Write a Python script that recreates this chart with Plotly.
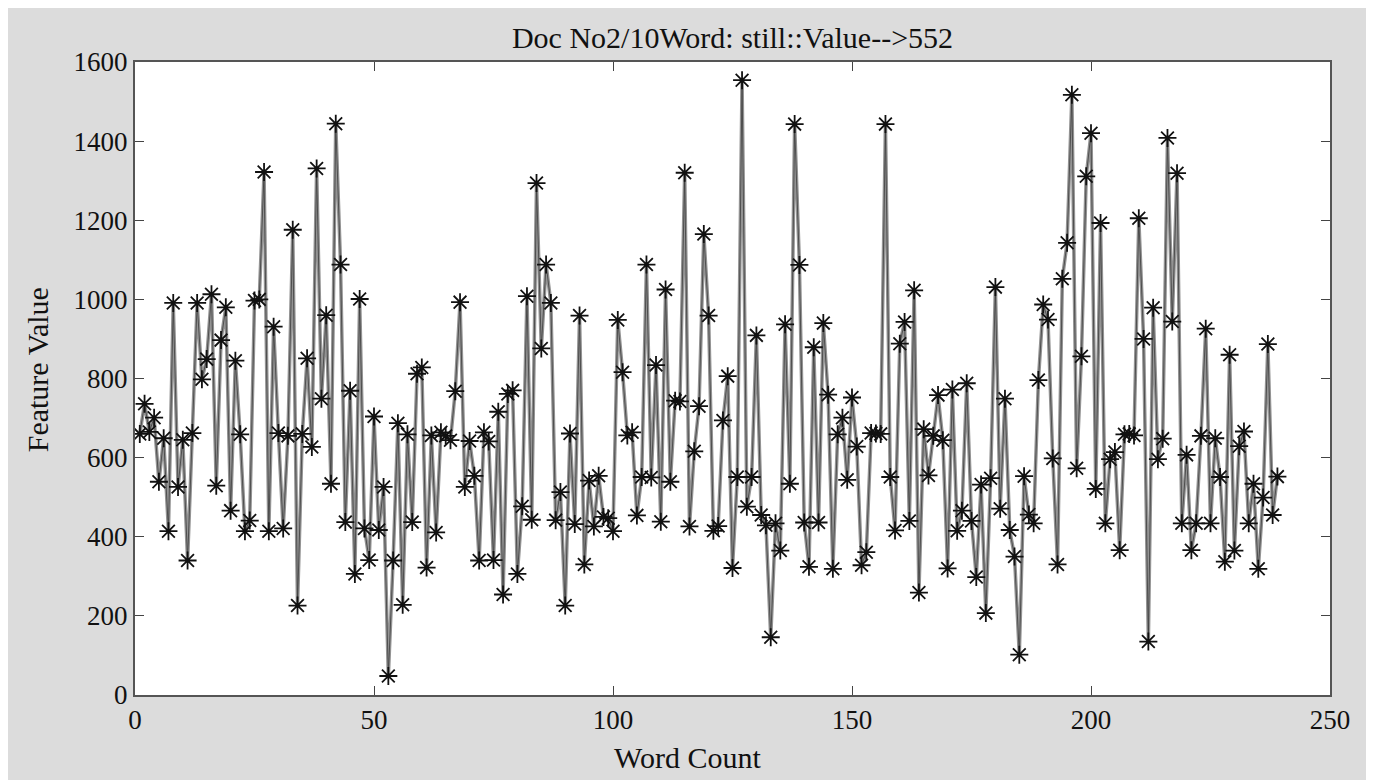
import plotly.graph_objects as go

title_text = "Doc No2/10Word: still::Value-->552"
x_label = "Word Count"
y_label = "Feature Value"

feature_values = [
    660, 736, 665, 701, 539, 649, 414, 991, 526, 645,
    340, 662, 991, 798, 849, 1013, 529, 897, 980, 466,
    845, 659, 414, 441, 997, 1000, 1322, 414, 931, 662,
    421, 655, 1176, 226, 660, 851, 627, 1331, 749, 960,
    534, 1444, 1088, 437, 769, 306, 1001, 421, 341, 704,
    417, 526, 48, 340, 687, 228, 659, 437, 812, 828,
    322, 656, 411, 664, 655, 644, 768, 993, 526, 642,
    554, 340, 664, 641, 341, 716, 254, 761, 770, 306,
    477, 1008, 443, 1294, 876, 1088, 991, 442, 513, 226,
    661, 432, 959, 330, 542, 426, 554, 450, 447, 414,
    948, 816, 656, 664, 454, 551, 1088, 550, 834, 438,
    1025, 539, 744, 742, 1320, 426, 616, 730, 1165, 959,
    415, 427, 694, 806, 321, 551, 1554, 476, 551, 909,
    455, 429, 146, 434, 365, 937, 534, 1443, 1087, 436,
    324, 879, 436, 940, 759, 319, 659, 701, 544, 752,
    628, 328, 361, 662, 661, 660, 1443, 551, 416, 888,
    943, 440, 1023, 259, 672, 555, 655, 758, 644, 320,
    772, 415, 466, 788, 440, 298, 532, 207, 548, 1031,
    471, 749, 417, 350, 102, 553, 456, 434, 796, 987,
    949, 598, 330, 1052, 1143, 1517, 573, 856, 1311, 1420,
    521, 1193, 434, 596, 614, 366, 659, 660, 656, 1205,
    900, 135, 979, 596, 648, 1408, 944, 1319, 434, 607,
    366, 434, 655, 926, 434, 649, 551, 337, 860, 365,
    629, 666, 434, 534, 319, 499, 887, 455, 552,
]
word_count = list(range(1, len(feature_values) + 1))

x_ticks = [0, 50, 100, 150, 200, 250]
y_ticks = [0, 200, 400, 600, 800, 1000, 1200, 1400, 1600]

FONT = "Liberation Serif, Times New Roman, serif"
W, H = 1360, 772

fig = go.Figure()
fig.add_trace(go.Scatter(
    x=word_count, y=feature_values, mode="lines",
    line=dict(color="#939393", width=3.5), hoverinfo="skip", showlegend=False,
))
fig.add_trace(go.Scatter(
    x=word_count, y=feature_values, mode="lines+markers",
    line=dict(color="#303030", width=0.7),
    marker=dict(symbol="asterisk-open", size=15, color="#111111",
                line=dict(color="#111111", width=1.8)),
    showlegend=False,
))

axis_common = dict(
    showgrid=False, zeroline=False, ticks="inside", ticklen=9, tickwidth=1,
    tickcolor="#444444", mirror="ticks", showline=True, linecolor="#555555",
    linewidth=2, tickfont=dict(family=FONT, size=27, color="#111111"),
)

fig.update_layout(
    width=W, height=H,
    paper_bgcolor="#dcdcdc", plot_bgcolor="#ffffff",
    margin=dict(l=127, r=38, t=54, b=85),
    font=dict(family=FONT, color="#111111"),
    title=dict(text=title_text, x=0.5, xref="paper", xanchor="center",
               y=1 - 29 / H, yref="container", yanchor="middle",
               font=dict(family=FONT, size=30, color="#111111")),
    xaxis=dict(range=[0, 250], tickvals=x_ticks, ticktext=[str(v) for v in x_ticks],
               **axis_common),
    yaxis=dict(range=[0, 1600], tickvals=y_ticks, ticktext=[str(v) for v in y_ticks],
               **axis_common),
    annotations=[
        dict(text=x_label, xref="paper", yref="paper", x=0.462, y=-0.0995,
             xanchor="center", yanchor="middle", showarrow=False,
             font=dict(family=FONT, size=30, color="#111111")),
        dict(text=y_label, xref="paper", yref="paper", x=-0.082, y=0.513,
             xanchor="center", yanchor="middle", showarrow=False, textangle=-90,
             font=dict(family=FONT, size=30, color="#111111")),
    ],
)

fig.write_html("out.html")
